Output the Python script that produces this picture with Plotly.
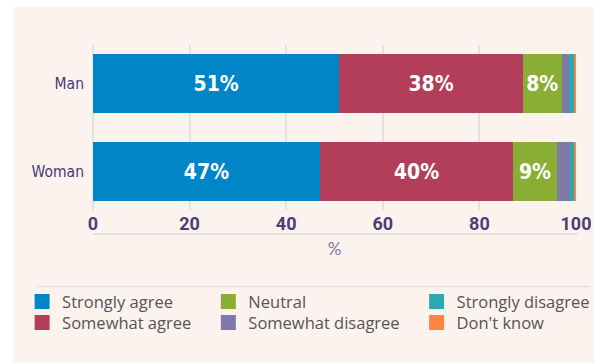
import plotly.graph_objects as go

# Survey responses by gender (percent of respondents)
groups = ["Man", "Woman"]
responses = ["Strongly agree", "Somewhat agree", "Neutral",
             "Somewhat disagree", "Strongly disagree", "Don't know"]
strongly_agree = [51, 47]
somewhat_agree = [38, 40]
neutral = [8, 9]
somewhat_disagree = [1.5, 2.7]
strongly_disagree = [1.1, 0.9]
dont_know = [0.4, 0.4]
x_ticks = [0, 20, 40, 60, 80, 100]

series = [strongly_agree, somewhat_agree, neutral,
          somewhat_disagree, strongly_disagree, dont_know]
colors = ["#0085C7", "#B23E5A", "#8AAE33", "#7F79A9", "#2EA8B0", "#FF8443"]
labelled = [True, True, True, False, False, False]

W, H = 594, 363
L, R, T, B = 93.3, 18.3, 45, 153
pw, ph = W - L - R, H - T - B


def px_x(px):
    return (px - L) / pw


def px_y(py):
    return (H - B - py) / ph


# legend grid: three columns of two rows, one legend box per entry
legend_cols = [22.5, 208.5, 416.5]
legend_rows = [284.3, 305.3]
legend_ids = ["legend", "legend2", "legend3", "legend4", "legend5", "legend6"]
legend_pos = [(legend_cols[i // 2], legend_rows[i % 2]) for i in range(6)]

fig = go.Figure()
for name, vals, col, lab in zip(responses, series, colors, labelled):
    fig.add_trace(go.Bar(
        name=name,
        y=groups,
        x=vals,
        orientation="h",
        width=0.68,
        marker=dict(color=col, line=dict(width=0)),
        text=[f"{v:g}%" for v in vals] if lab else None,
        textposition="inside" if lab else "none",
        insidetextanchor="middle",
        textfont=dict(family="DejaVu Sans Condensed", size=21, color="white", weight="bold"),
        showlegend=False,
        hoverinfo="skip",
    ))

# square swatches for the key
for name, col, lg in zip(responses, colors, legend_ids):
    fig.add_trace(go.Scatter(
        name=name, x=[None], y=[None], mode="markers",
        marker=dict(symbol="square", size=15, color=col, line=dict(width=0)),
        legend=lg, showlegend=True, hoverinfo="skip",
    ))

panel = dict(type="rect", xref="paper", yref="paper",
             x0=px_x(14), x1=px_x(600), y0=px_y(7), y1=px_y(370),
             fillcolor="#FCF2EE", line=dict(width=0), layer="below")
axis_rule = dict(type="line", xref="paper", yref="paper",
                 x0=0, x1=px_x(577.7), y0=px_y(234), y1=px_y(234),
                 line=dict(color="#DEDBDA", width=1.5))
legend_rule = dict(type="line", xref="paper", yref="paper",
                   x0=px_x(38), x1=px_x(590), y0=px_y(286.7), y1=px_y(286.7),
                   line=dict(color="#D6DCE2", width=1))

legend_font = dict(family="Open Sans", size=16.5, color="#555555")
legends = {}
for lg, (lx, ly) in zip(legend_ids, legend_pos):
    legends[lg] = dict(x=px_x(lx), y=px_y(ly), orientation="v",
                       yanchor="top", xanchor="left", font=legend_font,
                       bgcolor="rgba(0,0,0,0)")

fig.update_layout(
    width=W, height=H,
    margin=dict(l=L, r=R, t=T, b=B, pad=0, autoexpand=False),
    paper_bgcolor="white",
    plot_bgcolor="rgba(0,0,0,0)",
    barmode="stack",
    shapes=[panel, axis_rule, legend_rule],
    xaxis=dict(
        range=[0, 100],
        tickvals=x_ticks,
        ticktext=[str(v) for v in x_ticks],
        showgrid=True, gridcolor="#E6E1DF", gridwidth=1.5,
        zeroline=True, zerolinecolor="#E6E1DF", zerolinewidth=1.5,
        showline=False, ticks="",
        tickfont=dict(family="Roboto", size=18, color="#4B3F74", weight="bold"),
        ticklabelstandoff=1,
        title=dict(text="%", standoff=10,
                   font=dict(family="Lato", size=17, color="#8077A9")),
        fixedrange=True,
    ),
    yaxis=dict(
        categoryorder="array", categoryarray=groups,
        range=[1.4375, -0.4375],
        showgrid=False, zeroline=False, showline=False, ticks="",
        tickfont=dict(family="DejaVu Sans Condensed, sans-serif",
                      size=15.5, color="#463A74"),
        ticklabelstandoff=8,
        fixedrange=True,
    ),
    **legends,
)

fig.write_html("out.html")
